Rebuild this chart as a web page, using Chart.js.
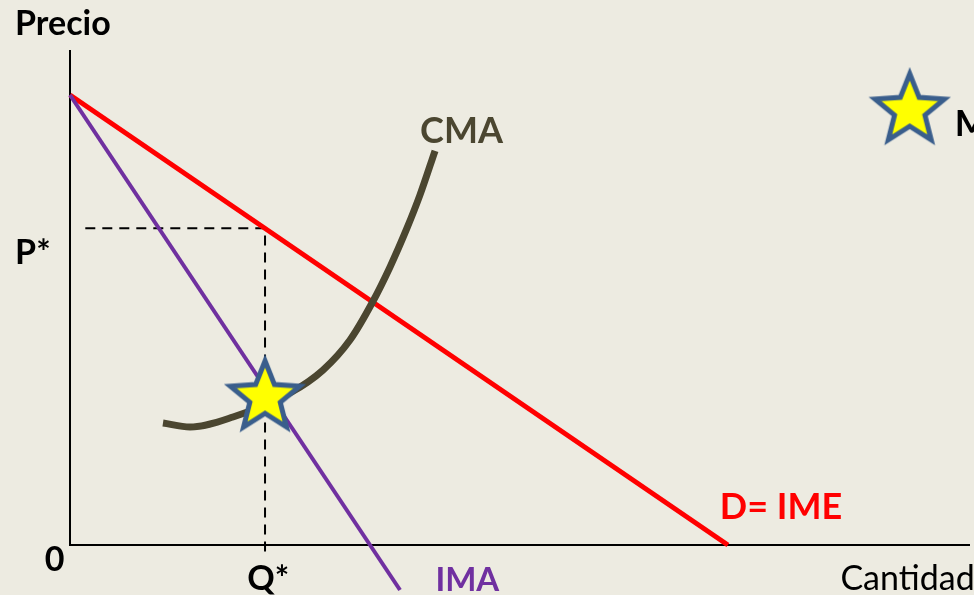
<!DOCTYPE html>
<html>
<head>
<meta charset="utf-8">
<script src="https://cdn.jsdelivr.net/npm/chart.js@4.4.0/dist/chart.umd.min.js"></script>
<style>
  body { margin: 0; background: #EDEBE1; }
  #wrap { width: 974px; height: 595px; position: relative; overflow: hidden; }
</style>
</head>
<body>
<div id="wrap"><canvas id="myChart" width="974" height="595"></canvas></div>
<script>
// demand (D = IME) and marginal revenue (IMA)
const demandX = [0, 73.1];
const demandY = [50, 0];
const imaX = [0, 36.67];
const imaY = [50, -5];

// average cost curve (CMA)
const cmaX = [10.33, 13.33, 18.11, 24.44, 28.11, 31.11, 33.56, 35.56, 37.44, 38.89, 40.56];
const cmaY = [13.56, 13.11, 14.22, 16.89, 19.44, 22.78, 26.89, 30.9, 35.2, 38.9, 43.8];

// equilibrium
const qStar = 21.67;
const pStar = 35.2;
const starY = 16.4;
const legendStar = [93.3, 48.3];

const toPts = (xs, ys) => xs.map((x, i) => ({ x: x, y: ys[i] }));

// star image used as point style
function makeStar() {
  const c = document.createElement('canvas');
  c.width = 90; c.height = 90;
  const g = c.getContext('2d');
  const R = 36.5, r = 16;
  g.beginPath();
  for (let i = 0; i < 10; i++) {
    const rad = i % 2 === 0 ? R : r;
    const a = -Math.PI / 2 + i * Math.PI / 5;
    const px = 45 + rad * Math.cos(a), py = 45 + rad * Math.sin(a);
    if (i === 0) g.moveTo(px, py); else g.lineTo(px, py);
  }
  g.closePath();
  g.fillStyle = '#FFFF00';
  g.fill();
  g.lineWidth = 5;
  g.lineJoin = 'miter';
  g.strokeStyle = '#3A5E8C';
  g.stroke();
  return c;
}
const starImg = makeStar();

const labels = [
  { text: 'Precio', x: -6.1, y: 57.9, color: '#000', weight: 'bold', size: 34 },
  { text: 'P*', x: -6.1, y: 32.4, color: '#000', weight: 'bold', size: 34 },
  { text: '0', x: -2.8, y: -1.7, color: '#000', weight: 'bold', size: 34 },
  { text: 'Q*', x: 19.7, y: -3.8, color: '#000', weight: 'bold', size: 34 },
  { text: 'IMA', x: 40.6, y: -3.9, color: '#7030A0', weight: 'bold', size: 33 },
  { text: 'Cantidad', x: 85.6, y: -3.8, color: '#000', weight: 'normal', size: 34 },
  { text: 'D= IME', x: 72.2, y: 4.2, color: '#FF0000', weight: 'bold', size: 36 },
  { text: 'CMA', x: 38.9, y: 46.0, color: '#4B4630', weight: 'bold', size: 36 },
  { text: 'M', x: 98.3, y: 46.7, color: '#000', weight: 'bold', size: 36 }
];

const labelPlugin = {
  id: 'labels',
  afterDraw(chart) {
    const ctx = chart.ctx;
    const xs = chart.scales.x, ys = chart.scales.y;
    ctx.save();
    ctx.textBaseline = 'middle';
    ctx.textAlign = 'left';
    labels.forEach(l => {
      ctx.font = l.weight + ' ' + l.size + 'px Lato';
      ctx.fillStyle = l.color;
      ctx.fillText(l.text, xs.getPixelForValue(l.x), ys.getPixelForValue(l.y));
    });
    ctx.restore();
  }
};

const ctx = document.getElementById('myChart');
const line = (data, color, width, extra) => Object.assign({
  data: data, showLine: true, borderColor: color, borderWidth: width,
  pointRadius: 0, fill: false, clip: false
}, extra || {});

new Chart(ctx, {
  type: 'scatter',
  data: {
    datasets: [
      { data: [{ x: qStar, y: starY }, { x: legendStar[0], y: legendStar[1] }],
        pointStyle: starImg, pointRadius: 40, showLine: false, clip: false },
      line(toPts(cmaX, cmaY), '#4B4630', 7, { cubicInterpolationMode: 'monotone', borderCapStyle: 'butt' }),
      line(toPts(imaX, imaY), '#7030A0', 4),
      line(toPts(demandX, demandY), '#FF0000', 5),
      line([{ x: 1.7, y: pStar }, { x: qStar, y: pStar }, { x: qStar, y: -1.1 }], '#000', 2, { borderDash: [10, 7] }),
      line([{ x: 0, y: 55 }, { x: 0, y: 0 }, { x: 100, y: 0 }], '#000', 2)
    ]
  },
  options: {
    responsive: false,
    animation: false,
    layout: { autoPadding: false, padding: { left: 70, right: 4, top: 50, bottom: 5 } },
    plugins: { legend: { display: false }, tooltip: { enabled: false } },
    scales: {
      x: { type: 'linear', min: 0, max: 100, display: false },
      y: { type: 'linear', min: -5, max: 55, display: false }
    }
  },
  plugins: [labelPlugin]
});
</script>
</body>
</html>
